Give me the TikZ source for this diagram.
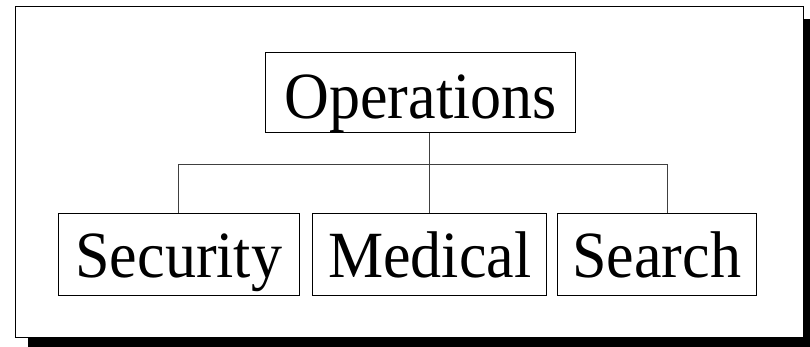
\documentclass[tikz,border=0pt]{standalone}
\usepackage{fontspec}
\newfontfamily\boxfont{Liberation Serif}[FakeStretch=0.94]
\begin{document}
\begin{tikzpicture}[x=1pt,y=-1pt,
  unitbox/.style={draw=black, line width=1pt, inner sep=0pt, font=\boxfont\fontsize{66}{70}\selectfont},
  link/.style={draw=black!75, line width=1pt}]
\useasboundingbox (0,0) rectangle (810,347);
% shadow and frame
\fill[black] (28.3,19) rectangle (815.5,349.5);
\draw[fill=white, line width=1pt] (15.5,6.5) rectangle (803,337);
% nodes
\node[unitbox, minimum width=310pt, text height=65.6pt, text depth=14.4pt] (ops) at (420.7,92.7) {Operations};
\node[unitbox, minimum width=241pt, text height=63.7pt, text depth=18pt] (sec) at (178.8,254.85) {Security};
\node[unitbox, minimum width=234pt, text height=63.7pt, text depth=18pt] (med) at (429.7,254.85) {Medical};
\node[unitbox, minimum width=198.7pt, text height=63.7pt, text depth=18pt] (sea) at (656.65,254.85) {Search};
% connectors
\coordinate (bar) at (429,165);
\coordinate (rtop) at (667.7,165);
\draw[link] (med.north |- ops.south) -- (med.north);
\draw[link] (sec.north) -- (sec.north |- bar) -- (rtop) -- (rtop |- sea.north);
\end{tikzpicture}
\end{document}
